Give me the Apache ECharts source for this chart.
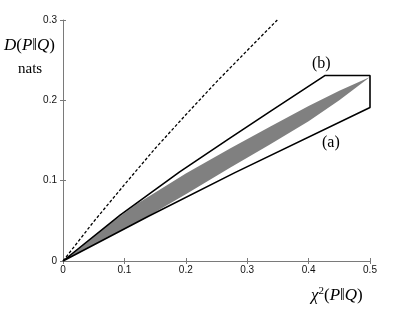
<!DOCTYPE html>
<html><head><meta charset="utf-8">
<script src="https://cdn.jsdelivr.net/npm/echarts@6/dist/echarts.min.js"></script>
<style>html,body{margin:0;padding:0;background:#fff}#c{width:420px;height:315px}</style>
</head><body><div id="c"></div>
<script>
// x ticks and y ticks
const xTicks = [0, 0.1, 0.2, 0.3, 0.4, 0.5];
const yTicks = [0, 0.1, 0.2, 0.3];
// dashed curve
const dashX = [0, 0.05, 0.1, 0.15, 0.2, 0.25, 0.3, 0.349];
const dashY = [0, 0.049, 0.095, 0.140, 0.182, 0.223, 0.262, 0.300];
// region (b) upper boundary, top edge, right edge
const bX = [0, 0.093, 0.19, 0.27, 0.337, 0.427, 0.5, 0.5];
const bY = [0, 0.057, 0.111, 0.152, 0.186, 0.231, 0.231, 0.191];
// region (a) lower boundary
const aX = [0.5, 0.28, 0.14, 0];
const aY = [0.191, 0.110, 0.056, 0];
// gray achievable region
const gUpX = [0, 0.06, 0.12, 0.2, 0.272, 0.337, 0.4, 0.45, 0.5];
const gUpY = [0, 0.037, 0.071, 0.109, 0.140, 0.167, 0.193, 0.212, 0.229];
const gLoX = [0, 0.13, 0.2, 0.272, 0.337, 0.4, 0.45, 0.5];
const gLoY = [0, 0.052, 0.083, 0.116, 0.145, 0.174, 0.200, 0.229];

const zip = (xs, ys) => xs.map((x, i) => [x, ys[i]]);
const outline = zip(bX, bY).concat(zip(aX, aY));
const grayPoly = zip(gUpX, gUpY).concat(zip(gLoX, gLoY).reverse());

const chart = echarts.init(document.getElementById('c'), null, {renderer: 'canvas'});
const tickFont = {fontFamily: 'Liberation Sans', fontSize: 10, color: '#111'};
const serif = 'Liberation Serif';
const fmt = v => String(+(+v).toFixed(1));
chart.setOption({
  animation: false,
  backgroundColor: '#fff',
  grid: {left: 63, right: 50, top: 20, bottom: 54},
  xAxis: [{
    type: 'value', min: 0, max: 0.5, interval: 0.1,
    axisLine: {show: true, lineStyle: {color: '#7a7a7a', width: 1}},
    axisTick: {show: true, inside: true, length: 3, lineStyle: {color: '#7a7a7a'}},
    axisLabel: Object.assign({margin: 4, formatter: fmt}, tickFont),
    splitLine: {show: false}
  }, {
    type: 'value', position: 'top', min: 0, max: 0.5, interval: 0.1,
    axisLine: {show: false},
    axisTick: {show: true, inside: true, length: 3, lineStyle: {color: '#7a7a7a'}},
    axisLabel: {show: false}, splitLine: {show: false}
  }],
  yAxis: [{
    type: 'value', min: 0, max: 0.3, interval: 0.1,
    axisLine: {show: true, lineStyle: {color: '#7a7a7a', width: 1}},
    axisTick: {show: true, inside: true, length: 3, lineStyle: {color: '#7a7a7a'}},
    axisLabel: Object.assign({margin: 6, formatter: fmt}, tickFont),
    splitLine: {show: false}
  }, {
    type: 'value', position: 'right', min: 0, max: 0.3, interval: 0.1,
    axisLine: {show: false},
    axisTick: {show: true, inside: true, length: 3, lineStyle: {color: '#7a7a7a'}},
    axisLabel: {show: false}, splitLine: {show: false}
  }],
  series: [{
    type: 'custom',
    data: grayPoly,
    renderItem: function (params, api) {
      if (params.dataIndex !== 0) return;
      const pts = grayPoly.map(p => api.coord(p));
      return {type: 'polygon', shape: {points: pts}, style: {fill: '#808080', stroke: null}};
    },
    z: 1
  }, {
    type: 'line', data: outline, symbol: 'none', z: 3,
    lineStyle: {color: '#000', width: 1.6}
  }, {
    type: 'line', data: zip(dashX, dashY), symbol: 'none', smooth: false, z: 3,
    lineStyle: {color: '#000', width: 1.3, type: [3, 2]}
  }],
  graphic: [
    {type: 'text', left: 4, top: 37, style: {text: '{i|D}({i|P}‖{i|Q})', font: '17px ' + serif, fill: '#000',
      rich: {i: {fontStyle: 'italic', fontFamily: serif, fontSize: 17}}}},
    {type: 'text', left: 18, top: 62, style: {text: 'nats', font: '15px ' + serif, fill: '#000'}},
    {type: 'text', left: 311, top: 286, style: {text: '{i|χ}{s|2}({i|P}‖{i|Q})', font: '17px ' + serif, fill: '#000',
      rich: {i: {fontStyle: 'italic', fontFamily: serif, fontSize: 17}, s: {fontSize: 11, fontFamily: serif, verticalAlign: 'top', padding: [0, 0, 8, 0]}}}},
    {type: 'text', left: 312, top: 56, style: {text: '(b)', font: '16px ' + serif, fill: '#000'}},
    {type: 'text', left: 322, top: 135, style: {text: '(a)', font: '16px ' + serif, fill: '#000'}}
  ]
});
</script></body></html>
